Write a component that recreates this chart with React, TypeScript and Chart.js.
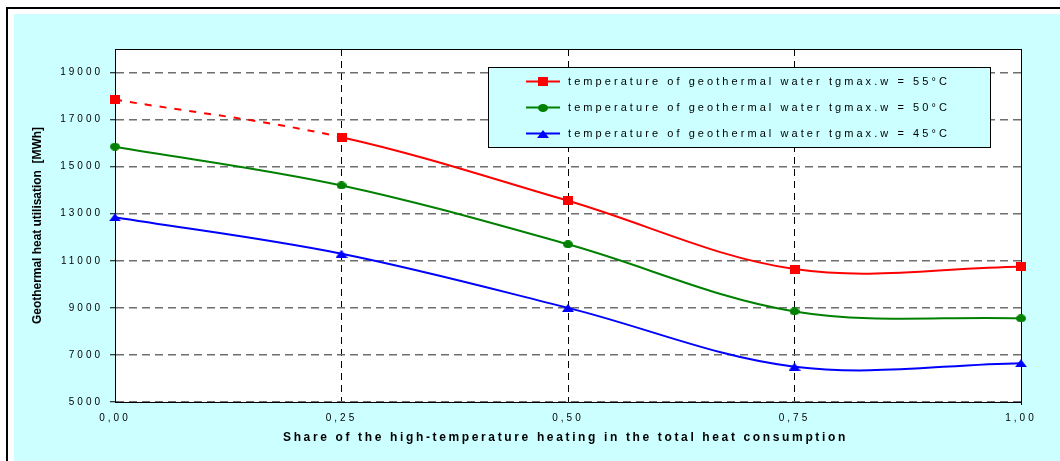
import React, { useEffect, useRef } from 'react';
import { Chart, registerables } from 'chart.js';

Chart.register(...registerables);

// Share of high-temperature heating (x) and heat utilisation in MWh (y)
const shares = [0, 0.25, 0.5, 0.75, 1];
const heat55 = [17850, 16250, 13550, 10650, 10750];
const heat50 = [15850, 14200, 11700, 8850, 8550];
const heat45 = [12850, 11300, 9000, 6500, 6650];

const yTicks = [5000, 7000, 9000, 11000, 13000, 15000, 17000, 19000];
const xTickLabels = ['0,00', '0,25', '0,50', '0,75', '1,00'];
const seriesLabels = [
  'temperature of geothermal water tgmax.w = 55°C',
  'temperature of geothermal water tgmax.w = 50°C',
  'temperature of geothermal water tgmax.w = 45°C',
];
const seriesColors = ['#FF0000', '#008000', '#0000FF'];
const yTitle = 'Geothermal heat utilisation  [MWh]';
const xTitle = 'Share of the high-temperature heating in the total heat consumption';

const FONT = '"Liberation Sans", Arial, Helvetica, sans-serif';

function makeMarker(kind: 'rect' | 'circle' | 'triangle', color: string) {
  const c = document.createElement('canvas');
  const w = kind === 'triangle' ? 12 : 10;
  const h = kind === 'rect' ? 9 : 8;
  c.width = w;
  c.height = h;
  const g = c.getContext('2d')!;
  g.fillStyle = color;
  if (kind === 'rect') {
    g.fillRect(0, 0, w, h);
  } else if (kind === 'circle') {
    g.beginPath();
    g.ellipse(w / 2, h / 2, w / 2, h / 2, 0, 0, Math.PI * 2);
    g.fill();
  } else {
    g.beginPath();
    g.moveTo(w / 2, 0);
    g.lineTo(w, h);
    g.lineTo(0, h);
    g.closePath();
    g.fill();
  }
  return c;
}

// Draws text spread out with letter spacing so it spans the given width
function spacedText(
  ctx: CanvasRenderingContext2D,
  text: string,
  x: number,
  y: number,
  width: number,
  font: string,
  align: 'left' | 'center',
  color = '#000'
) {
  ctx.save();
  ctx.font = font;
  (ctx as any).letterSpacing = '0px';
  const w0 = ctx.measureText(text).width;
  const sp = text.length > 1 ? (width - w0) / (text.length - 1) : 0;
  (ctx as any).letterSpacing = sp.toFixed(2) + 'px';
  ctx.textAlign = 'left';
  ctx.textBaseline = 'middle';
  ctx.fillStyle = color;
  const startX = align === 'center' ? x - width / 2 : x;
  ctx.fillText(text, startX, y);
  ctx.restore();
}

export default function App() {
  const canvasRef = useRef<HTMLCanvasElement | null>(null);

  useEffect(() => {
    const canvas = canvasRef.current;
    if (!canvas) return;

    const markers = [
      makeMarker('rect', seriesColors[0]),
      makeMarker('circle', seriesColors[1]),
      makeMarker('triangle', seriesColors[2]),
    ];
    const series = [heat55, heat50, heat45];

    const framePlugin = {
      id: 'frame',
      beforeDraw(chart: any) {
        const { ctx, width, height, chartArea: a } = chart;
        ctx.save();
        ctx.fillStyle = '#FFFFFF';
        ctx.fillRect(0, 0, width, height);
        ctx.fillStyle = '#000000';
        ctx.fillRect(6, 7, width - 6, 2);
        ctx.fillRect(6, 7, 2, height - 7);
        ctx.fillStyle = '#CCFFFF';
        ctx.fillRect(14, 14, width - 14, height - 14);
        ctx.fillStyle = '#FFFFFF';
        ctx.fillRect(a.left, a.top, a.right - a.left, a.bottom - a.top);
        ctx.restore();
        // spacing used by the axis tick labels
        ctx.letterSpacing = '3px';
      },
      beforeDatasetsDraw(chart: any) {
        const { ctx, chartArea: a } = chart;
        ctx.save();
        ctx.strokeStyle = '#000000';
        ctx.lineWidth = 1;
        ctx.setLineDash([]);
        const top = Math.round(a.top - 0.5) + 0.5;
        const right = Math.round(a.right - 0.5) + 0.5;
        ctx.beginPath();
        ctx.moveTo(a.left, top);
        ctx.lineTo(right, top);
        ctx.lineTo(right, a.bottom + 3);
        ctx.stroke();
        ctx.restore();
      },
      afterDraw(chart: any) {
        const { ctx } = chart;
        ctx.save();
        // axis titles
        spacedText(ctx, xTitle, 564, 438, 562, `bold 12px ${FONT}`, 'center');
        ctx.translate(38, 225.5);
        ctx.rotate(-Math.PI / 2);
        spacedText(ctx, yTitle, 0, 0, 197, `bold 12px ${FONT}`, 'center');
        ctx.restore();

        // legend box inside the plot
        ctx.save();
        ctx.letterSpacing = '0px';
        ctx.fillStyle = '#CCFFFF';
        ctx.fillRect(488, 67, 502, 80);
        ctx.strokeStyle = '#000000';
        ctx.lineWidth = 1;
        ctx.setLineDash([]);
        ctx.strokeRect(488.5, 67.5, 502, 80);
        const rows = [81.5, 107.5, 133.5];
        rows.forEach((ry, i) => {
          ctx.strokeStyle = seriesColors[i];
          ctx.lineWidth = 2;
          ctx.beginPath();
          ctx.moveTo(526, ry);
          ctx.lineTo(560, ry);
          ctx.stroke();
          const m = markers[i];
          ctx.drawImage(m, Math.round(543 - m.width / 2), Math.round(ry - m.height / 2));
          spacedText(ctx, seriesLabels[i], 568, ry, 379, `11px ${FONT}`, 'left', '#000');
        });
        ctx.restore();
      },
    };

    const chart = new Chart(canvas, {
      type: 'line',
      data: {
        datasets: series.map((vals, si) => ({
          label: seriesLabels[si],
          data: shares.map((x, i) => ({ x, y: vals[i] })),
          borderColor: seriesColors[si],
          backgroundColor: seriesColors[si],
          borderWidth: 2,
          pointStyle: markers[si] as any,
          pointRadius: 5,
          tension: 0.35,
          fill: false,
          clip: false as any,
          segment:
            si === 0
              ? { borderDash: (ctx: any) => (ctx.p0DataIndex === 0 ? [7, 8] : undefined) }
              : undefined,
        })),
      },
      options: {
        responsive: false,
        animation: false,
        events: [],
        layout: { padding: { left: 0, top: 49, right: 39, bottom: 0 } },
        plugins: {
          legend: { display: false },
          tooltip: { enabled: false },
        },
        scales: {
          x: {
            type: 'linear',
            min: 0,
            max: 1,
            afterBuildTicks: (s: any) => {
              s.ticks = shares.map((v) => ({ value: v }));
            },
            afterFit: (s: any) => {
              s.height = 59;
            },
            ticks: {
              callback: (_v: any, i: number) => xTickLabels[i],
              font: { family: FONT, size: 10 },
              color: '#000',
              padding: 10,
              maxRotation: 0,
              autoSkip: false,
            },
            grid: { color: '#000000', lineWidth: 1, drawTicks: false },
            border: { display: true, color: '#000000', width: 1, dash: [7, 5] },
          },
          y: {
            type: 'linear',
            min: 5000,
            max: 20000,
            afterBuildTicks: (s: any) => {
              s.ticks = yTicks.map((v) => ({ value: v }));
            },
            afterFit: (s: any) => {
              s.width = 115;
            },
            ticks: {
              callback: (v: any) => String(v),
              font: { family: FONT, size: 10 },
              color: '#000',
              padding: 7,
              autoSkip: false,
            },
            grid: {
              color: '#6E6E6E',
              lineWidth: 1.5,
              drawTicks: true,
              tickLength: 5,
              tickColor: '#000000',
              tickWidth: 1,
              tickBorderDash: [],
            } as any,
            border: { display: true, color: '#000000', width: 1, dash: [8, 5] },
          },
        },
      },
      plugins: [framePlugin],
    });

    return () => chart.destroy();
  }, []);

  return (
    <div style={{ position: 'absolute', left: 0, top: 0, width: 1060, height: 461 }}>
      <canvas ref={canvasRef} width={1060} height={461} style={{ display: 'block' }} />
    </div>
  );
}
